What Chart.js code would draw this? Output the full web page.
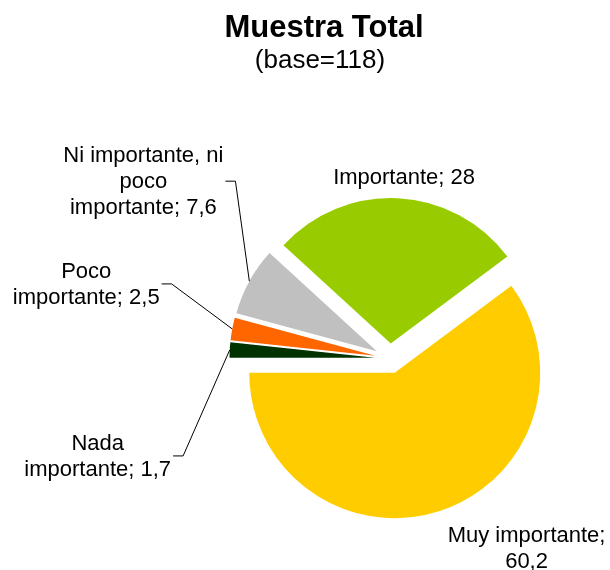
<!DOCTYPE html>
<html lang="es">
<head>
    <meta charset="UTF-8">
    <title>Muestra Total</title>
    <script src="https://cdn.jsdelivr.net/npm/chart.js"></script>
    <style>
        body {
            margin: 0;
            padding: 0;
            background-color: #ffffff;
        }
    </style>
</head>
<body>
    <canvas id="pieChart" width="610" height="570"></canvas>

    <script>
        // Data (clockwise from 9 o'clock)
        const categories = ['Nada importante', 'Poco importante', 'Ni importante, ni poco importante', 'Importante', 'Muy importante'];
        const values = [1.7, 2.5, 7.6, 28, 60.2];
        const sliceColors = ['#003300', '#FF6600', '#C0C0C0', '#99CC00', '#FFCC00'];
        const chartTitle = 'Muestra Total';
        const chartSubtitle = '(base=118)';

        // Layout of the data labels: offset of the label (centre x, first baseline)
        // from the outer middle point of its slice, and whether a leader line is drawn
        const labelOffsets = [[-132, 100], [-146, -51], [-106, -119], [6, -14], [86, 31]];
        const leaderLines = [true, true, true, false, false];

        const FONT = "'Liberation Sans', Arial, sans-serif";
        const EXPLODE = 15;      // px each slice is pulled out
        const LINE_H = 26;
        const WRAP_WIDTH = 163;

        function fmt(v) {
            return String(v).replace('.', ',');
        }

        function wrapText(ctx, text, maxW) {
            const words = text.split(' ');
            const lines = [];
            let cur = '';
            words.forEach(w => {
                const test = cur ? cur + ' ' + w : w;
                if (cur && ctx.measureText(test).width > maxW) {
                    lines.push(cur);
                    cur = w;
                } else {
                    cur = test;
                }
            });
            if (cur) lines.push(cur);
            return lines;
        }

        // Draw each arc shifted outwards along its middle angle (exploded pie)
        const explodePlugin = {
            id: 'explodedSlices',
            beforeDatasetDraw(chart, args) {
                const ctx = chart.ctx;
                args.meta.data.forEach(arc => {
                    const mid = (arc.startAngle + arc.endAngle) / 2;
                    ctx.save();
                    ctx.translate(Math.cos(mid) * EXPLODE, Math.sin(mid) * EXPLODE);
                    arc.draw(ctx);
                    ctx.restore();
                });
                return false;
            }
        };

        // Data labels "Category; value" with leader lines
        const labelPlugin = {
            id: 'sliceLabels',
            afterDraw(chart) {
                const ctx = chart.ctx;
                const meta = chart.getDatasetMeta(0);
                ctx.save();
                ctx.font = '22px ' + FONT;
                ctx.fillStyle = '#000000';
                ctx.strokeStyle = '#000000';
                ctx.lineWidth = 1;
                ctx.textAlign = 'center';
                ctx.textBaseline = 'alphabetic';

                meta.data.forEach((arc, i) => {
                    const mid = (arc.startAngle + arc.endAngle) / 2;
                    const dist = arc.outerRadius + EXPLODE;
                    const px = arc.x + Math.cos(mid) * dist;
                    const py = arc.y + Math.sin(mid) * dist;

                    const text = categories[i] + '; ' + fmt(values[i]);
                    const lines = wrapText(ctx, text, WRAP_WIDTH);
                    const lx = px + labelOffsets[i][0];
                    const ly = py + labelOffsets[i][1];

                    lines.forEach((line, k) => {
                        ctx.fillText(line, lx, ly + k * LINE_H);
                    });

                    if (leaderLines[i]) {
                        const maxW = Math.max(...lines.map(l => ctx.measureText(l).width));
                        const hx = lx + maxW / 2 + 2;
                        const hy = ly + (lines.length - 1) * LINE_H / 2 - 7.5;
                        ctx.beginPath();
                        ctx.moveTo(hx, hy + 0.5);
                        ctx.lineTo(hx + 10, hy + 0.5);
                        ctx.lineTo(px, py);
                        ctx.stroke();
                    }
                });
                ctx.restore();
            }
        };

        // Title and base line, centred over the whole picture
        const titlePlugin = {
            id: 'titles',
            afterDraw(chart) {
                const ctx = chart.ctx;
                ctx.save();
                ctx.fillStyle = '#000000';
                ctx.textAlign = 'center';
                ctx.textBaseline = 'alphabetic';
                ctx.font = 'bold 31px ' + FONT;
                ctx.fillText(chartTitle, 324, 37);
                ctx.font = '26px ' + FONT;
                ctx.fillText(chartSubtitle, 320, 68);
                ctx.restore();
            }
        };

        const ctx = document.getElementById('pieChart').getContext('2d');
        new Chart(ctx, {
            type: 'pie',
            data: {
                labels: categories,
                datasets: [{
                    data: values,
                    backgroundColor: sliceColors,
                    borderWidth: 0,
                    hoverOffset: 0
                }]
            },
            options: {
                responsive: false,
                animation: false,
                events: [],
                rotation: -90,
                radius: 145.5,
                layout: {
                    padding: { left: 170, right: 0, top: 147, bottom: 0 }
                },
                plugins: {
                    legend: { display: false },
                    tooltip: { enabled: false },
                    title: { display: false }
                }
            },
            plugins: [explodePlugin, labelPlugin, titlePlugin]
        });
    </script>
</body>
</html>
